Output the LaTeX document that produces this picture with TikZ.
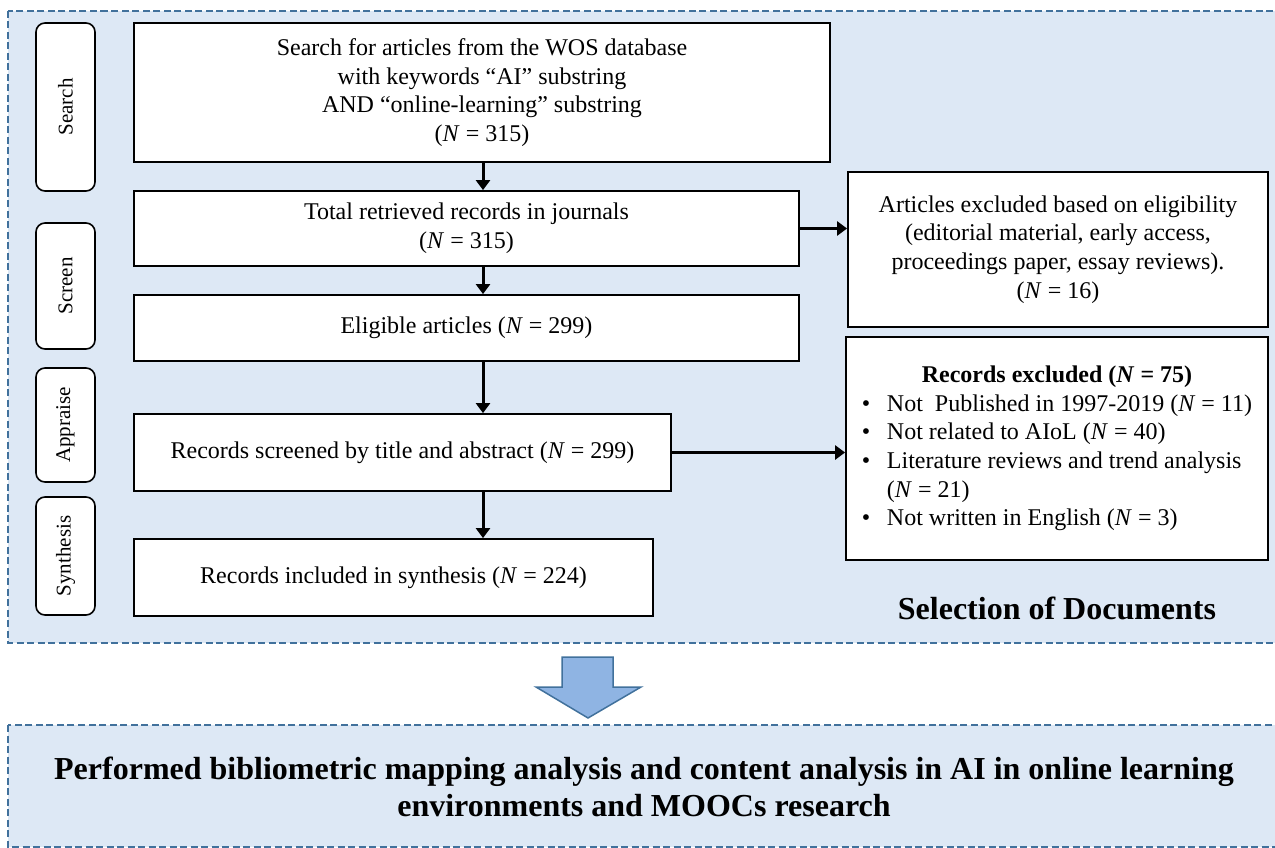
\documentclass[tikz,border=0pt]{standalone}
\usepackage{fontspec}
\setmainfont{Liberation Serif}
\usepackage{tikz}
\usetikzlibrary{arrows.meta}
\definecolor{panelblue}{RGB}{221,232,245}
\definecolor{dashblue}{RGB}{65,113,156}
\definecolor{arrowblue}{RGB}{143,180,227}
\newcommand{\boxfont}{\fontsize{24}{28.7}\selectfont}
\newcommand{\tagfont}{\fontsize{21}{25}\selectfont}
\newcommand{\headfont}{\bfseries\fontsize{32}{37}\selectfont}
\newcommand{\itembullet}{\makebox[25pt][l]{\textbullet}}
\tikzset{
	panel/.style={draw=dashblue,fill=panelblue,line width=2.4pt,dash pattern=on 7pt off 3.5pt},
	flow box/.style={rectangle,draw,fill=white,line width=1.8pt,inner sep=0pt,align=center,font=\boxfont},
	phase tag/.style={rectangle,rounded corners=9pt,draw,fill=white,line width=1.6pt,inner sep=0pt,rotate=90,minimum height=59pt,font=\tagfont},
	flow arrow/.style={-{Triangle[length=10pt,width=14pt]},line width=3pt}
}

\begin{document}
\begin{tikzpicture}[x=1pt,y=-1pt]
	\useasboundingbox (0,0) rectangle (1275,848);
	\clip (0,0) rectangle (1275,848);
	% panels
	\draw[panel] (8,11) rectangle (1300,643);
	\draw[panel] (8,725) rectangle (1300,847);
	% phases
	\node[phase tag,minimum width=168pt] (search tag) at (65.5,107) {Search};
	\node[phase tag,minimum width=126pt] (screen tag) at (65.5,286) {Screen};
	\node[phase tag,minimum width=114pt] (appraise tag) at (65.5,425) {Appraise};
	\node[phase tag,minimum width=118pt] (synthesis tag) at (65.5,556) {Synthesis};
	% main flow
	\node[flow box,minimum width=696pt,minimum height=139pt] (search) at (482,92.5)
		{Search for articles from the WOS database\\with keywords ``AI'' substring\\AND ``online-learning'' substring\\(\textit{N} = 315)};
	\node[flow box,minimum width=665pt,minimum height=75pt] (total) at (466.5,228.5)
		{Total retrieved records in journals\\(\textit{N} = 315)};
	\node[flow box,minimum width=665pt,minimum height=66pt] (eligible) at (466.5,328)
		{Eligible articles (\textit{N} = 299)};
	\node[flow box,minimum width=537pt,minimum height=77pt] (screened) at (402.5,452.5)
		{Records screened by title and abstract (\textit{N} = 299)};
	\node[flow box,minimum width=519pt,minimum height=77pt] (included) at (393.5,577.5)
		{Records included in synthesis (\textit{N} = 224)};
	% exclusions
	\node[flow box,minimum width=420pt,minimum height=155pt] (articles) at (1058,249.5)
		{Articles excluded based on eligibility\\(editorial material, early access,\\proceedings paper, essay reviews).\\(\textit{N} = 16)};
	\node[flow box,minimum width=422pt,minimum height=223pt] (records) at (1057,448.5) {%
		\begin{tabular}{@{}l@{}l@{}}
			\multicolumn{2}{c}{\textbf{Records excluded (\textit{N} = 75)}}\\
			\itembullet & Not\ \ Published in 1997-2019 (\textit{N} = 11)\\
			\itembullet & Not related to AIoL (\textit{N} = 40)\\
			\itembullet & Literature reviews and trend analysis\\
			& (\textit{N} = 21)\\
			\itembullet & Not written in English (\textit{N} = 3)
		\end{tabular}};
	% arrows
	\coordinate (spine) at (483,0);
	\draw[flow arrow] (search.south -| spine) -- (total.north -| spine);
	\draw[flow arrow] (total.south -| spine) -- (eligible.north -| spine);
	\draw[flow arrow] (eligible.south -| spine) -- (screened.north -| spine);
	\draw[flow arrow] (screened.south -| spine) -- (included.north -| spine);
	\draw[flow arrow] (total.east) -- (articles.west |- total.east);
	\draw[flow arrow] (screened.east) -- (records.west |- screened.east);
	% block arrow
	\draw[draw=dashblue,fill=arrowblue,line width=1.5pt] (562,657) -- (613,657) -- (613,687) -- (641,687)
		-- (588,718) -- (536,687) -- (562,687) -- cycle;
	\node[font=\headfont,anchor=base] (selection) at (1057,619) {Selection of Documents};
	\node[font=\headfont,align=center] (mapping) at (644,787)
		{Performed bibliometric mapping analysis and content analysis in AI in online learning\\environments and MOOCs research};
\end{tikzpicture}
\end{document}
